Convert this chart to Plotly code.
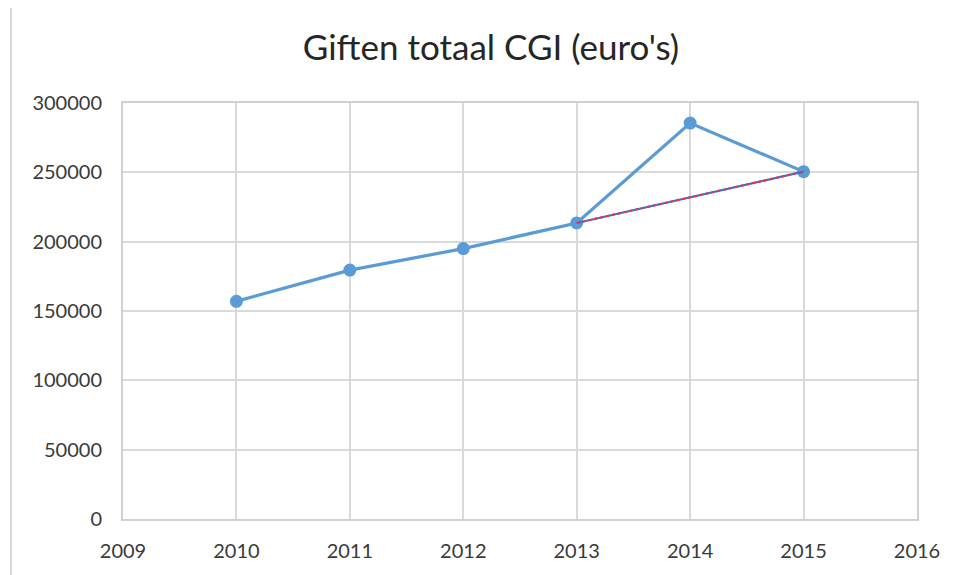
import plotly.graph_objects as go

years = [2010, 2011, 2012, 2013, 2014, 2015]
giften = [157000, 179500, 195000, 213500, 285500, 250500]
trend_years = [2013, 2015]
trend_values = [213500, 250500]
x_ticks = [2009, 2010, 2011, 2012, 2013, 2014, 2015, 2016]
y_ticks = [0, 50000, 100000, 150000, 200000, 250000, 300000]

fig = go.Figure()
fig.add_trace(go.Scatter(x=years, y=giften, mode="lines+markers",
                         line=dict(color="#5b9bd5", width=3.2),
                         marker=dict(color="#5b9bd5", size=13),
                         showlegend=False))
fig.add_trace(go.Scatter(x=trend_years, y=trend_values, mode="lines",
                         line=dict(color="#3b6fd1", width=2.2),
                         showlegend=False))
fig.add_trace(go.Scatter(x=trend_years, y=trend_values, mode="lines",
                         line=dict(color="#ee3344", width=2, dash="dot"),
                         showlegend=False))

font_family = "Lato, 'Open Sans', sans-serif"
W, H = 947, 567
fig.update_layout(
    width=W, height=H,
    margin=dict(l=115, r=38, t=95, b=56),
    paper_bgcolor="white", plot_bgcolor="white",
    title=dict(text="Giften totaal CGI (euro's)", x=483 / W, xanchor="center",
               y=1 - 40/H, yanchor="middle",
               font=dict(family=font_family, size=35, color="#262626")),
    font=dict(family=font_family, size=20, color="#404040"),
)
fig.update_xaxes(range=[2009, 2016], tickvals=x_ticks, ticktext=[str(v) for v in x_ticks],
                 showgrid=True, gridcolor="#d9d9d9", gridwidth=1.5,
                 showline=True, linecolor="#d0d0d0", linewidth=2, mirror=True,
                 zeroline=False, ticks="outside", ticklen=13, tickcolor="rgba(0,0,0,0)",
                 tickfont=dict(size=20, color="#3a3a3a"))
fig.update_yaxes(range=[0, 300000], tickvals=y_ticks, ticktext=[str(v) for v in y_ticks],
                 showgrid=True, gridcolor="#d9d9d9", gridwidth=1.5,
                 showline=True, linecolor="#d0d0d0", linewidth=2, mirror=True,
                 zeroline=False, ticks="outside", ticklen=15, tickcolor="rgba(0,0,0,0)",
                 tickfont=dict(size=20, color="#3a3a3a"))

# outer chart-area left border
fig.add_shape(type="line", xref="paper", yref="paper",
              x0=(11 - 123) / 794, x1=(11 - 123) / 794,
              y0=(519 - 8) / 416, y1=(519 - 575) / 416,
              line=dict(color="#d9d9d9", width=2))

fig.write_html("out.html")
